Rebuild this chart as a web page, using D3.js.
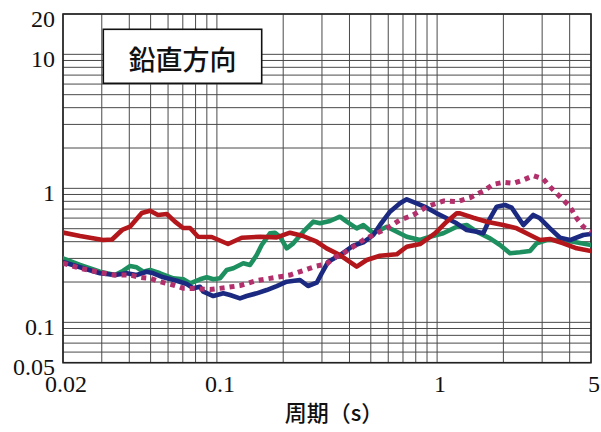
<!DOCTYPE html>
<html>
<head>
<meta charset="utf-8">
<script src="https://cdn.jsdelivr.net/npm/d3@7/dist/d3.min.js"></script>
<style>
  html, body { margin: 0; padding: 0; background: #fff; }
  svg { display: block; }
</style>
</head>
<body>
<svg id="chart" width="601" height="432"></svg>
<script>
// Response spectra (vertical component), period in seconds
const redPeriods = [0.02, 0.0239, 0.0304, 0.0334, 0.0371, 0.0403, 0.0456, 0.0497, 0.054, 0.0592, 0.0645, 0.0702, 0.0755, 0.0821, 0.0947, 0.1123, 0.1296, 0.157, 0.187, 0.2148, 0.246, 0.284, 0.315, 0.362, 0.4314, 0.479, 0.5505, 0.6556, 0.7277, 0.8362, 0.978, 1.106, 1.2275, 1.2706, 1.46, 1.68, 1.998, 2.299, 2.642, 2.933, 3.256, 3.742, 4.305, 5];
const redValues = [0.468, 0.441, 0.4115, 0.415, 0.489, 0.517, 0.655, 0.681, 0.633, 0.643, 0.564, 0.506, 0.506, 0.4356, 0.4334, 0.3843, 0.428, 0.4356, 0.431, 0.4667, 0.441, 0.3996, 0.3568, 0.318, 0.2602, 0.292, 0.3144, 0.322, 0.3667, 0.3843, 0.4619, 0.564, 0.651, 0.651, 0.604, 0.564, 0.5327, 0.503, 0.4485, 0.4115, 0.4187, 0.389, 0.3568, 0.3406];

const greenPeriods = [0.02, 0.0239, 0.02945, 0.03446, 0.03757, 0.0403, 0.04323, 0.04632, 0.0497, 0.0552, 0.0634, 0.07039, 0.0755, 0.08379, 0.08988, 0.09632, 0.1033, 0.1108, 0.1187, 0.1318, 0.1413, 0.1516, 0.1597, 0.1742, 0.1836, 0.1935, 0.2075, 0.2223, 0.2469, 0.2741, 0.2938, 0.3263, 0.362, 0.3886, 0.4314, 0.4623, 0.5131, 0.5904, 0.6556, 0.7277, 0.8362, 0.9285, 1.067, 1.2275, 1.363, 1.5124, 1.739, 1.931, 2.143, 2.379, 2.642, 2.834, 3.146, 3.615, 4.154, 5];
const greenValues = [0.2995, 0.2679, 0.2387, 0.2256, 0.2428, 0.2633, 0.2575, 0.2387, 0.2457, 0.2323, 0.2132, 0.2096, 0.1956, 0.2096, 0.2169, 0.2096, 0.2132, 0.2457, 0.2531, 0.2758, 0.2679, 0.318, 0.3777, 0.4619, 0.4667, 0.4356, 0.3568, 0.389, 0.4747, 0.564, 0.5485, 0.5706, 0.6143, 0.564, 0.503, 0.5327, 0.4619, 0.517, 0.4747, 0.4356, 0.4115, 0.4356, 0.4619, 0.517, 0.5327, 0.4747, 0.4237, 0.3777, 0.3275, 0.3332, 0.3406, 0.389, 0.4115, 0.4115, 0.3996, 0.3777];

const navyPeriods = [0.02, 0.0239, 0.02945, 0.03446, 0.03895, 0.04323, 0.04799, 0.05142, 0.05708, 0.06568, 0.07293, 0.07815, 0.08379, 0.08674, 0.09632, 0.1069, 0.1147, 0.1273, 0.1365, 0.1516, 0.1683, 0.187, 0.2075, 0.2384, 0.2593, 0.284, 0.2991, 0.3205, 0.362, 0.4164, 0.4623, 0.5131, 0.5505, 0.6111, 0.6785, 0.7277, 0.8079, 0.897, 0.996, 1.106, 1.2275, 1.363, 1.5124, 1.621, 1.739, 1.865, 2.034, 2.182, 2.464, 2.735, 2.933, 3.256, 3.615, 4.013, 4.612, 5];
const navyValues = [0.282, 0.2575, 0.2323, 0.2256, 0.2323, 0.2256, 0.2387, 0.2323, 0.2169, 0.2046, 0.1933, 0.1795, 0.1845, 0.1693, 0.1572, 0.1647, 0.16, 0.1511, 0.1572, 0.1647, 0.1743, 0.1867, 0.201, 0.207, 0.1867, 0.1976, 0.2323, 0.2835, 0.318, 0.3733, 0.3958, 0.4485, 0.5327, 0.6692, 0.773, 0.8284, 0.773, 0.717, 0.651, 0.5978, 0.5485, 0.489, 0.4747, 0.4619, 0.5978, 0.7294, 0.7511, 0.717, 0.5327, 0.633, 0.5978, 0.503, 0.428, 0.4115, 0.4485, 0.4562];

const magentaPeriods = [0.02, 0.0239, 0.02845, 0.03385, 0.0403, 0.04475, 0.0497, 0.0552, 0.0634, 0.07039, 0.07815, 0.093, 0.1108, 0.1273, 0.1516, 0.187, 0.2148, 0.2469, 0.284, 0.315, 0.3378, 0.375, 0.4164, 0.4623, 0.5131, 0.5904, 0.6785, 0.7796, 0.897, 1.067, 1.2275, 1.411, 1.621, 1.8, 1.998, 2.218, 2.464, 2.735, 3.036, 3.256, 3.615, 4.013, 4.305, 4.612, 5];
const magentaValues = [0.2772, 0.2531, 0.2387, 0.2256, 0.2256, 0.2169, 0.2132, 0.201, 0.19, 0.1795, 0.179, 0.1758, 0.182, 0.1883, 0.2052, 0.2169, 0.2256, 0.2437, 0.2633, 0.2725, 0.3005, 0.3275, 0.3667, 0.4115, 0.4485, 0.503, 0.5805, 0.633, 0.7294, 0.8043, 0.795, 0.8514, 0.9553, 1.072, 1.109, 1.09, 1.154, 1.243, 1.174, 1.029, 0.866, 0.7294, 0.5978, 0.517, 0.4747];

// Axis ticks and grid
const xTickLabels = [0.02, 0.1, 1, 5];
const yTickLabels = [0.05, 0.1, 1, 10, 20];
const xGrid = [0.02, 0.03, 0.04, 0.05, 0.06, 0.07, 0.08, 0.09, 0.1, 0.2, 0.3, 0.4, 0.5, 0.6, 0.7, 0.8, 0.9, 1, 2, 3, 4, 5];
const yGrid = [0.05, 0.06, 0.07, 0.08, 0.09, 0.1, 0.2, 0.3, 0.4, 0.5, 0.6, 0.7, 0.8, 0.9, 1, 2, 3, 4, 5, 6, 7, 8, 9, 10, 20];

const title = "鉛直方向";
const xTitle = "周期（s）";

const margin = { left: 63, right: 10, top: 14, bottom: 69.3 };
const W = 601, H = 432;
const iw = W - margin.left - margin.right;
const ih = H - margin.top - margin.bottom;

const svg = d3.select("#chart");
const g = svg.append("g").attr("transform", `translate(${margin.left},${margin.top})`);

const x = d3.scaleLog().domain([0.02, 5]).range([0, iw]);
const y = d3.scaleLog().domain([0.05, 20]).range([ih, 0]);

// grid
g.append("g").selectAll("line").data(xGrid).join("line")
  .attr("x1", d => x(d)).attr("x2", d => x(d))
  .attr("y1", 0).attr("y2", ih)
  .attr("stroke", "#4a4a4a").attr("stroke-width", 1);
g.append("g").selectAll("line").data(yGrid).join("line")
  .attr("x1", 0).attr("x2", iw)
  .attr("y1", d => y(d)).attr("y2", d => y(d))
  .attr("stroke", "#4a4a4a").attr("stroke-width", 1);

// frame
g.append("rect").attr("x", 0).attr("y", 0).attr("width", iw).attr("height", ih)
  .attr("fill", "none").attr("stroke", "#222").attr("stroke-width", 1.6);

// title box
g.append("rect").attr("x", 40.3).attr("y", 15.3).attr("width", 158.4).attr("height", 54)
  .attr("fill", "#fff").attr("stroke", "#111").attr("stroke-width", 1.6);
g.append("text").attr("x", 119.5).attr("y", 44)
  .attr("text-anchor", "middle").attr("dominant-baseline", "central")
  .attr("font-family", "'Noto Sans CJK JP', sans-serif").attr("font-size", 27)
  .attr("font-weight", 500)
  .attr("fill", "#111").text(title);

// series
g.append("clipPath").attr("id", "plotClip").append("rect")
  .attr("x", 0).attr("y", 0).attr("width", iw).attr("height", ih);

const line = d3.line().x(d => x(d[0])).y(d => y(d[1])).curve(d3.curveLinear);
const series = [
  { p: greenPeriods, v: greenValues, color: "#1e9060", dash: null, w: 4.6 },
  { p: navyPeriods, v: navyValues, color: "#1b2a80", dash: null, w: 4.6 },
  { p: redPeriods, v: redValues, color: "#b3171c", dash: null, w: 4.6 },
  { p: magentaPeriods, v: magentaValues, color: "#b22f6c", dash: "5 5", w: 5 }
];
const lines = g.append("g").attr("clip-path", "url(#plotClip)");
series.forEach(s => {
  lines.append("path")
    .datum(s.p.map((p, i) => [p, s.v[i]]))
    .attr("d", line)
    .attr("fill", "none")
    .attr("stroke", s.color)
    .attr("stroke-width", s.w)
    .attr("stroke-linejoin", "round")
    .attr("stroke-linecap", s.dash ? "butt" : "round")
    .attr("stroke-dasharray", s.dash);
});

// axes
const fmt = d => String(d);
const xAxis = g.append("g").attr("transform", `translate(0,${ih})`)
  .call(d3.axisBottom(x).tickValues(xTickLabels).tickFormat(fmt).tickSize(0).tickPadding(12));
const yAxis = g.append("g")
  .call(d3.axisLeft(y).tickValues(yTickLabels).tickFormat(fmt).tickSize(0).tickPadding(8));
[xAxis, yAxis].forEach(a => {
  a.select(".domain").remove();
  a.selectAll("text")
    .attr("font-family", "'Liberation Serif', 'Times New Roman', serif")
    .attr("font-size", 24).attr("fill", "#111");
});
xAxis.selectAll("text").attr("dx", 2.5);
yAxis.selectAll("text").attr("dy", "0.5em");

// x title
svg.append("text").attr("x", 334).attr("y", 421)
  .attr("text-anchor", "middle")
  .attr("font-family", "'Noto Sans CJK JP', sans-serif").attr("font-size", 22)
  .attr("font-weight", 500)
  .attr("fill", "#111").text(xTitle);
</script>
</body>
</html>
